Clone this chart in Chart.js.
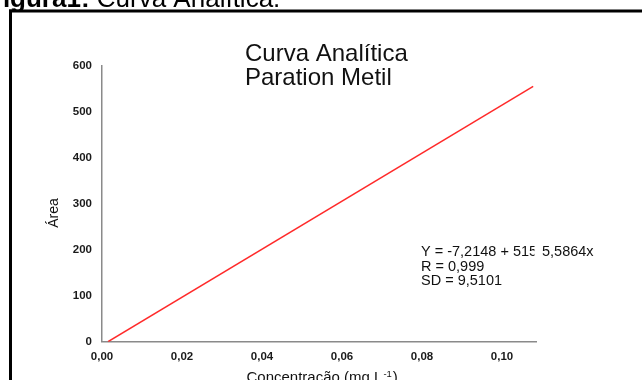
<!DOCTYPE html>
<html>
<head>
<meta charset="utf-8">
<script src="https://cdn.jsdelivr.net/npm/chart.js@4"></script>
<style>
  html, body { margin: 0; padding: 0; background: #fff; }
  #wrap { position: relative; width: 642px; height: 380px; overflow: hidden; }
  canvas { position: absolute; left: 0; top: 0; }
</style>
</head>
<body>
<div id="wrap"><canvas id="c" width="642" height="380"></canvas></div>
<script>
// ---- Data ----
const concentration = [0.0015, 0.1078];   // mg L-1 (ends of fitted line)
const area = [0, 555];
const xTicks = [0, 0.02, 0.04, 0.06, 0.08, 0.10];
const yTicks = [0, 100, 200, 300, 400, 500, 600];
const chartTitle = ["Curva Analítica", "Paration Metil"];
const statsLine1a = "Y = -7,2148 + 515";
const statsLine1b = "5,5864x";
const statsText = ["R = 0,999", "SD = 9,5101"];
const figureCaptionBold = "Figura1:";
const figureCaptionRest = " Curva Analítica.";
const xTitle = "Concentração (mg L";
const yTitle = "Área";

const PLOT = { left: 102, right: 536, top: 65.7, bottom: 341.7 };
const W = 642, H = 380;
const FONT = "'Liberation Sans', Arial, sans-serif";

const decor = {
  id: 'decor',
  beforeDraw(chart) {
    const ctx = chart.ctx;
    ctx.save();
    ctx.fillStyle = '#fff';
    ctx.fillRect(0, 0, W, H);
    // frame
    ctx.fillStyle = '#000';
    ctx.fillRect(9, 9.5, W - 9, 3);
    ctx.fillRect(9, 9.5, 3, H);
    // figure caption (cut at top)
    ctx.textBaseline = 'alphabetic';
    ctx.textAlign = 'left';
    ctx.font = 'bold 26px ' + FONT;
    ctx.fillText(figureCaptionBold, -13, 6.5);
    const bw = ctx.measureText(figureCaptionBold).width;
    ctx.font = '26px ' + FONT;
    ctx.fillText(figureCaptionRest, -13 + bw, 6.5);
    ctx.restore();
  },
  afterDraw(chart) {
    const ctx = chart.ctx;
    ctx.save();
    ctx.fillStyle = '#111';
    ctx.textAlign = 'left';
    ctx.textBaseline = 'alphabetic';
    // chart title
    ctx.font = '24px ' + FONT;
    ctx.fillText(chartTitle[0], 245, 61);
    ctx.fillText(chartTitle[1], 245, 85);
    // stats
    ctx.font = '14.5px ' + FONT;
    ctx.save();
    ctx.beginPath();
    ctx.rect(400, 230, 134.5, 40);
    ctx.clip();
    ctx.fillText(statsLine1a, 421, 256);
    ctx.restore();
    ctx.fillText(statsLine1b, 542, 256);
    ctx.fillText(statsText[0], 421, 270.5);
    ctx.fillText(statsText[1], 421, 285);
    // x title
    ctx.font = '15px ' + FONT;
    let x = 246.5;
    ctx.fillText(xTitle, x, 382.4);
    x += ctx.measureText(xTitle).width + 1;
    ctx.font = '9.5px ' + FONT;
    ctx.fillText('-1', x, 376.5);
    x += ctx.measureText('-1').width + 1;
    ctx.font = '15px ' + FONT;
    ctx.fillText(')', x, 382.4);
    // y title
    ctx.translate(54, 213);
    ctx.rotate(-Math.PI / 2);
    ctx.textAlign = 'center';
    ctx.textBaseline = 'middle';
    ctx.font = '14px ' + FONT;
    ctx.fillText(yTitle, 0, 0);
    ctx.restore();
  }
};

new Chart(document.getElementById('c'), {
  type: 'scatter',
  data: {
    datasets: [{
      data: concentration.map((c, i) => ({ x: c, y: area[i] })),
      showLine: true,
      borderColor: '#ff2a2a',
      borderWidth: 1.5,
      pointRadius: 0,
      fill: false
    }]
  },
  options: {
    responsive: false,
    animation: false,
    devicePixelRatio: 1,
    layout: { padding: { left: 0, top: PLOT.top, right: W - PLOT.right, bottom: 0 } },
    plugins: { legend: { display: false }, tooltip: { enabled: false }, title: { display: false } },
    scales: {
      x: {
        type: 'linear',
        min: 0,
        max: 0.1085,
        afterBuildTicks(scale) { scale.ticks = xTicks.map(v => ({ value: v })); },
        afterFit(scale) { scale.height = H - PLOT.bottom; },
        grid: { display: false, drawTicks: false },
        border: { display: true, color: '#8a8a8a', width: 1.5 },
        ticks: {
          padding: 8,
          color: '#1a1a1a',
          font: { family: FONT, size: 11.5, weight: 'bold' },
          callback: v => v.toFixed(2).replace('.', ','),
          maxRotation: 0
        }
      },
      y: {
        type: 'linear',
        min: 0,
        max: 600,
        afterBuildTicks(scale) { scale.ticks = yTicks.map(v => ({ value: v })); },
        afterFit(scale) { scale.width = PLOT.left; },
        grid: { display: false, drawTicks: false },
        border: { display: true, color: '#8a8a8a', width: 1.5 },
        ticks: {
          padding: 10,
          color: '#1a1a1a',
          font: { family: FONT, size: 11.5, weight: 'bold' },
          callback: v => String(v)
        }
      }
    }
  },
  plugins: [decor]
});
</script>
</body>
</html>
